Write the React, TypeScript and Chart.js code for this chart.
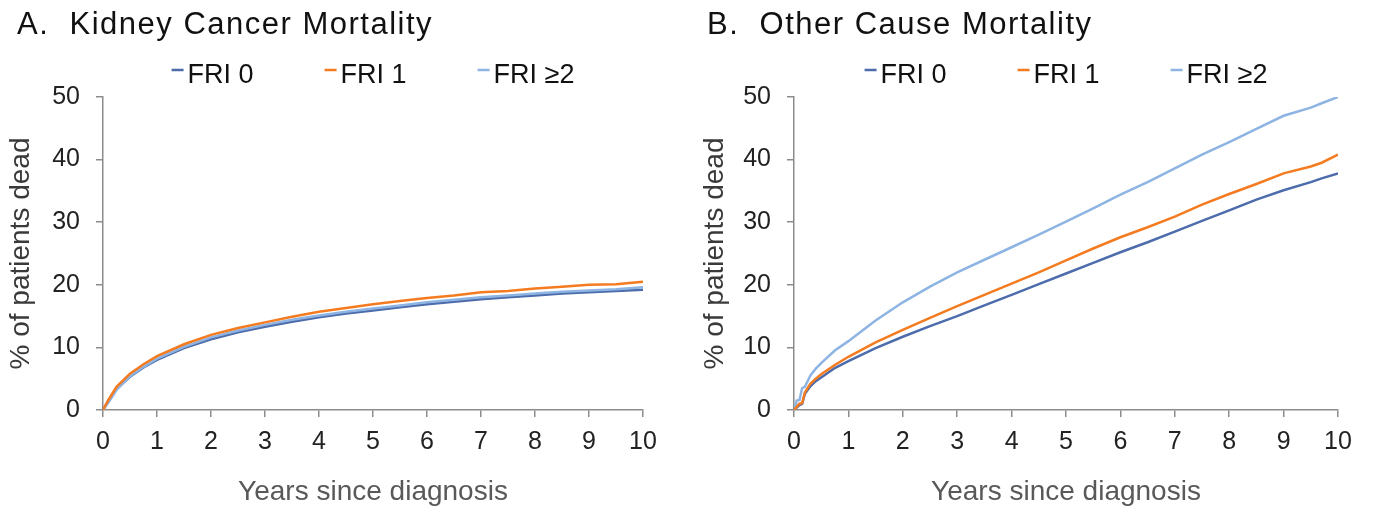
import React, { useEffect, useRef } from "react";
import { Chart, registerables } from "chart.js";

Chart.register(...registerables);

// ---------- data ----------
const SERIES_LABELS = ["FRI 0", "FRI 1", "FRI ≥2"];
const SERIES_COLORS = ["#4d6cab", "#f47b20", "#8db4e2"];
const DRAW_ORDER = [2, 0, 1];

const X_TICK_STEP = 1;
const Y_TICK_STEP = 10;

// Panel A: Kidney cancer mortality
const KIDNEY_YEARS = [0, 0.1, 0.25, 0.5, 0.75, 1, 1.5, 2, 2.5, 3, 3.5, 4, 4.5, 5, 5.5, 6, 6.5, 7, 7.5, 8, 8.5, 9, 9.5, 10];
const KIDNEY_FRI0 = [0, 1.5, 3.4, 5.3, 6.8, 8.0, 9.9, 11.3, 12.4, 13.3, 14.1, 14.8, 15.4, 15.9, 16.4, 16.9, 17.3, 17.7, 18.0, 18.3, 18.6, 18.8, 19.0, 19.2];
const KIDNEY_FRI1 = [0, 1.6, 3.7, 5.8, 7.3, 8.6, 10.5, 12.0, 13.1, 14.0, 14.9, 15.7, 16.3, 16.9, 17.4, 17.9, 18.3, 18.8, 19.0, 19.4, 19.7, 20.0, 20.1, 20.5];
const KIDNEY_FRI2 = [0, 1.2, 3.2, 5.4, 6.9, 8.2, 10.1, 11.6, 12.7, 13.6, 14.4, 15.1, 15.7, 16.2, 16.7, 17.2, 17.6, 18.0, 18.3, 18.6, 18.9, 19.1, 19.3, 19.6];

// Panel B: Other cause mortality
const OTHER_YEARS = [0, 0.05, 0.1, 0.15, 0.2, 0.3, 0.4, 0.5, 0.75, 1, 1.5, 2, 2.5, 3, 3.5, 4, 4.5, 5, 5.5, 6, 6.5, 7, 7.5, 8, 8.5, 9, 9.5, 9.7, 10];
const OTHER_FRI0 = [0, 0.4, 0.8, 1.0, 2.6, 3.8, 4.6, 5.2, 6.7, 7.8, 9.9, 11.7, 13.4, 15.0, 16.7, 18.4, 20.1, 21.8, 23.5, 25.2, 26.8, 28.5, 30.2, 31.9, 33.6, 35.1, 36.4, 37.0, 37.8];
const OTHER_FRI1 = [0, 0.5, 1.0, 1.1, 2.8, 4.2, 5.0, 5.7, 7.2, 8.5, 10.8, 12.8, 14.7, 16.6, 18.4, 20.2, 22.0, 23.9, 25.8, 27.6, 29.2, 30.9, 32.8, 34.5, 36.1, 37.8, 38.9, 39.5, 40.8];
const OTHER_FRI2 = [0, 1.5, 1.6, 3.5, 3.7, 5.5, 6.6, 7.5, 9.5, 11.0, 14.3, 17.2, 19.7, 22.0, 24.0, 26.0, 28.0, 30.1, 32.2, 34.4, 36.4, 38.6, 40.8, 42.8, 44.9, 47.0, 48.3, 49.0, 50.0];

// ---------- styling ----------
const FONT = '"Liberation Sans", Arial, Helvetica, sans-serif';
const AXIS_COLOR = "#8c8c8c";
const CANVAS_H = 514;

const headerPlugin = {
  id: "panelHeader",
  afterDraw(chart: any, _args: any, opts: any) {
    const ctx = chart.ctx as CanvasRenderingContext2D;
    ctx.save();
    ctx.textAlign = "left";
    ctx.textBaseline = "alphabetic";
    ctx.fillStyle = "#111111";
    ctx.font = `31px ${FONT}`;
    (ctx as any).letterSpacing = "1.5px";
    ctx.fillText(opts.title, opts.titleX, 34);
    (ctx as any).letterSpacing = "0px";

    // legend
    ctx.font = `27px ${FONT}`;
    const ds = chart.data.datasets;
    const dash = 12;
    const gapText = 4;
    const gapItem = 71;
    const widths = ds.map((d: any) => ctx.measureText(d.label).width);
    const total =
      widths.reduce((a: number, w: number) => a + dash + gapText + w, 0) + gapItem * (ds.length - 1);
    const area = chart.chartArea;
    let x = (area.left + area.right) / 2 - total / 2;
    ds.forEach((d: any, i: number) => {
      ctx.strokeStyle = d.borderColor;
      ctx.lineWidth = 2.5;
      ctx.beginPath();
      ctx.moveTo(x, 70);
      ctx.lineTo(x + dash, 70);
      ctx.stroke();
      ctx.fillStyle = "#111111";
      ctx.fillText(d.label, x + dash + gapText, 82.5);
      x += dash + gapText + widths[i] + gapItem;
    });
    ctx.restore();
  },
};

type PanelProps = {
  title: string;
  titleX: number;
  years: number[];
  series: number[][];
  left: number;
  width: number;
  yAxisWidth: number;
  yTitlePad: number;
  padRight: number;
};

function Panel(p: PanelProps) {
  const ref = useRef<HTMLCanvasElement>(null);
  useEffect(() => {
    const chart = new Chart(ref.current as HTMLCanvasElement, {
      type: "line",
      data: {
        datasets: p.series.map((s, i) => ({
          label: SERIES_LABELS[i],
          data: p.years.map((x, j) => ({ x, y: s[j] })),
          borderColor: SERIES_COLORS[i],
          backgroundColor: SERIES_COLORS[i],
          borderWidth: 2.5,
          pointRadius: 0,
          fill: false,
          tension: 0,
          order: DRAW_ORDER[i],
        })),
      },
      options: {
        animation: false,
        responsive: false,
        devicePixelRatio: 1,
        layout: { padding: { top: 97, left: 0, right: p.padRight, bottom: 0 } },
        plugins: {
          legend: { display: false },
          title: { display: false },
          tooltip: { enabled: false },
          panelHeader: { title: p.title, titleX: p.titleX },
        } as any,
        scales: {
          x: {
            type: "linear",
            min: 0,
            max: 10,
            ticks: { stepSize: X_TICK_STEP, color: "#222222", font: { family: FONT, size: 25 }, padding: 10 },
            grid: { display: true, drawOnChartArea: false, drawTicks: true, tickLength: 7, color: AXIS_COLOR, lineWidth: 1.5 },
            border: { display: true, color: AXIS_COLOR, width: 1.5 },
            title: {
              display: true,
              text: "Years since diagnosis",
              color: "#595959",
              font: { family: FONT, size: 28 },
              padding: { top: 0, bottom: 5 },
            },
            afterFit: (s: any) => {
              s.height = 104;
            },
          },
          y: {
            type: "linear",
            min: 0,
            max: 50,
            ticks: { stepSize: Y_TICK_STEP, color: "#222222", font: { family: FONT, size: 25 }, padding: 16 },
            grid: { display: true, drawOnChartArea: false, drawTicks: true, tickLength: 7, color: AXIS_COLOR, lineWidth: 1.5 },
            border: { display: true, color: AXIS_COLOR, width: 1.5 },
            title: {
              display: true,
              text: "% of patients dead",
              color: "#3a3a3a",
              font: { family: FONT, size: 28 },
              padding: { top: p.yTitlePad, bottom: 0 },
            },
            afterFit: (s: any) => {
              s.width = p.yAxisWidth;
            },
          },
        },
      },
      plugins: [headerPlugin as any],
    });
    return () => chart.destroy();
  }, []);
  return (
    <canvas
      ref={ref}
      width={p.width}
      height={CANVAS_H}
      style={{ position: "absolute", left: p.left, top: 0, width: p.width, height: CANVAS_H }}
    />
  );
}

export default function App() {
  return (
    <div style={{ position: "fixed", left: 0, top: 0, width: 1373, height: CANVAS_H, background: "#ffffff" }}>
      <Panel
        title="A.  Kidney Cancer Mortality"
        titleX={17}
        years={KIDNEY_YEARS}
        series={[KIDNEY_FRI0, KIDNEY_FRI1, KIDNEY_FRI2]}
        left={0}
        width={686}
        yAxisWidth={103}
        yTitlePad={4}
        padRight={43}
      />
      <Panel
        title="B.  Other Cause Mortality"
        titleX={21}
        years={OTHER_YEARS}
        series={[OTHER_FRI0, OTHER_FRI1, OTHER_FRI2]}
        left={686}
        width={687}
        yAxisWidth={108}
        yTitlePad={12}
        padRight={35}
      />
    </div>
  );
}
